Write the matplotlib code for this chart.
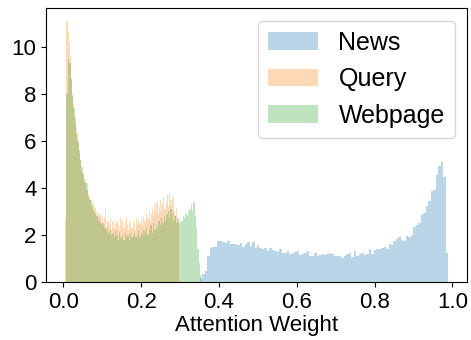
import matplotlib
matplotlib.use('Agg')
import matplotlib.pyplot as plt
import numpy as np

plt.rcParams['font.family'] = ['Liberation Sans', 'DejaVu Sans']

# Zakresy histogramów (100 przedziałów na serię)
news_range = (0.351, 0.989)
query_range = (0.005, 0.298)
webpage_range = (0.008, 0.355)

# Gęstości
news_density = [
    0.15, 0.35, 0.45, 1.10, 1.45, 1.50, 1.50, 1.75, 1.75, 1.70,
    1.65, 1.72, 1.62, 1.60, 1.60, 1.55, 1.65, 1.50, 1.62, 1.68,
    1.52, 1.68, 1.45, 1.55, 1.45, 1.42, 1.45, 1.30, 1.45, 1.35,
    1.32, 1.28, 1.38, 1.22, 1.25, 1.30, 1.20, 1.22, 1.28, 1.30,
    1.15, 1.20, 1.22, 1.30, 1.12, 1.10, 1.25, 1.12, 1.15, 1.18,
    1.15, 1.20, 1.22, 1.18, 1.12, 1.10, 1.08, 1.00, 1.12, 1.18,
    1.25, 1.05, 1.30, 1.10, 1.20, 1.22, 1.15, 1.20, 1.42, 1.20,
    1.35, 1.40, 1.38, 1.45, 1.50, 1.42, 1.60, 1.55, 1.75, 1.82,
    1.90, 1.78, 1.72, 1.95, 1.90, 2.00, 2.35, 2.40, 2.50, 2.85,
    2.95, 3.25, 3.45, 3.85, 3.90, 4.55, 4.95, 5.10, 4.45, 1.25,
]
query_density = [
    2.7, 11.1, 10.6, 10.2, 9.6, 8.6, 8.0, 7.6, 7.0, 6.5,
    6.3, 5.9, 5.5, 5.2, 4.7, 4.6, 4.4, 4.3, 3.9, 4.2,
    3.7, 3.6, 3.5, 3.3, 3.4, 3.1, 3.2, 2.9, 3.0, 2.8,
    2.9, 2.6, 2.8, 2.5, 2.7, 3.1, 2.3, 2.6, 2.4, 2.7,
    2.2, 2.5, 2.6, 2.3, 2.5, 2.6, 2.4, 2.2, 2.7, 2.4,
    2.6, 2.3, 2.5, 2.7, 2.4, 2.2, 2.6, 2.5, 2.3, 2.6,
    2.5, 2.2, 2.7, 2.4, 2.6, 2.5, 2.7, 2.4, 2.8, 2.6,
    2.5, 2.9, 2.7, 3.0, 2.6, 2.9, 3.1, 2.8, 3.3, 3.0,
    3.4, 2.9, 3.2, 3.5, 3.0, 3.3, 3.6, 3.1, 3.4, 3.7,
    3.2, 3.8, 3.5, 3.3, 3.6, 3.0, 2.8, 3.1, 2.6, 2.5,
]
webpage_density = [
    8.0, 9.5, 9.3, 8.7, 7.9, 7.4, 6.8, 6.3, 6.0, 5.6,
    5.2, 4.9, 4.6, 4.3, 4.2, 3.9, 3.6, 3.5, 3.3, 3.2,
    3.0, 2.9, 2.8, 2.6, 2.7, 2.5, 2.4, 2.5, 2.3, 2.2,
    2.3, 2.1, 2.2, 2.0, 2.1, 1.9, 2.2, 2.0, 1.8, 2.1,
    1.9, 2.0, 1.8, 2.1, 1.9, 2.0, 1.8, 2.1, 1.9, 2.0,
    2.1, 1.9, 2.0, 2.2, 1.9, 2.1, 2.0, 2.2, 2.1, 2.3,
    2.0, 2.2, 2.4, 2.1, 2.5, 2.2, 2.4, 2.3, 2.6, 2.4,
    2.7, 2.5, 2.8, 2.6, 2.9, 3.0, 2.7, 3.1, 2.9, 2.6,
    2.8, 2.5, 2.7, 2.6, 2.5, 2.6, 2.8, 2.7, 2.9, 2.8,
    3.0, 3.1, 3.3, 3.0, 3.4, 2.8, 2.3, 1.4, 0.8, 0.3,
]

series = [
    ('News', news_range, news_density),
    ('Query', query_range, query_density),
    ('Webpage', webpage_range, webpage_density),
]

fig = plt.figure(figsize=(4.71, 3.4), dpi=100)
ax = fig.add_axes([0.098, 0.171, 0.894, 0.805])

for label, (lo, hi), dens in series:
    edges = np.linspace(lo, hi, len(dens) + 1)
    centers = 0.5 * (edges[:-1] + edges[1:])
    ax.hist(centers, bins=edges, weights=dens, alpha=0.3, label=label)

ax.set_xlabel('Attention Weight', fontsize=16, labelpad=2)
ax.set_xticks([0.0, 0.2, 0.4, 0.6, 0.8, 1.0])
ax.set_yticks([0, 2, 4, 6, 8, 10])
ax.tick_params(labelsize=16)
ax.legend(fontsize=18, loc='upper right')

fig.savefig('out.png', dpi=100)
